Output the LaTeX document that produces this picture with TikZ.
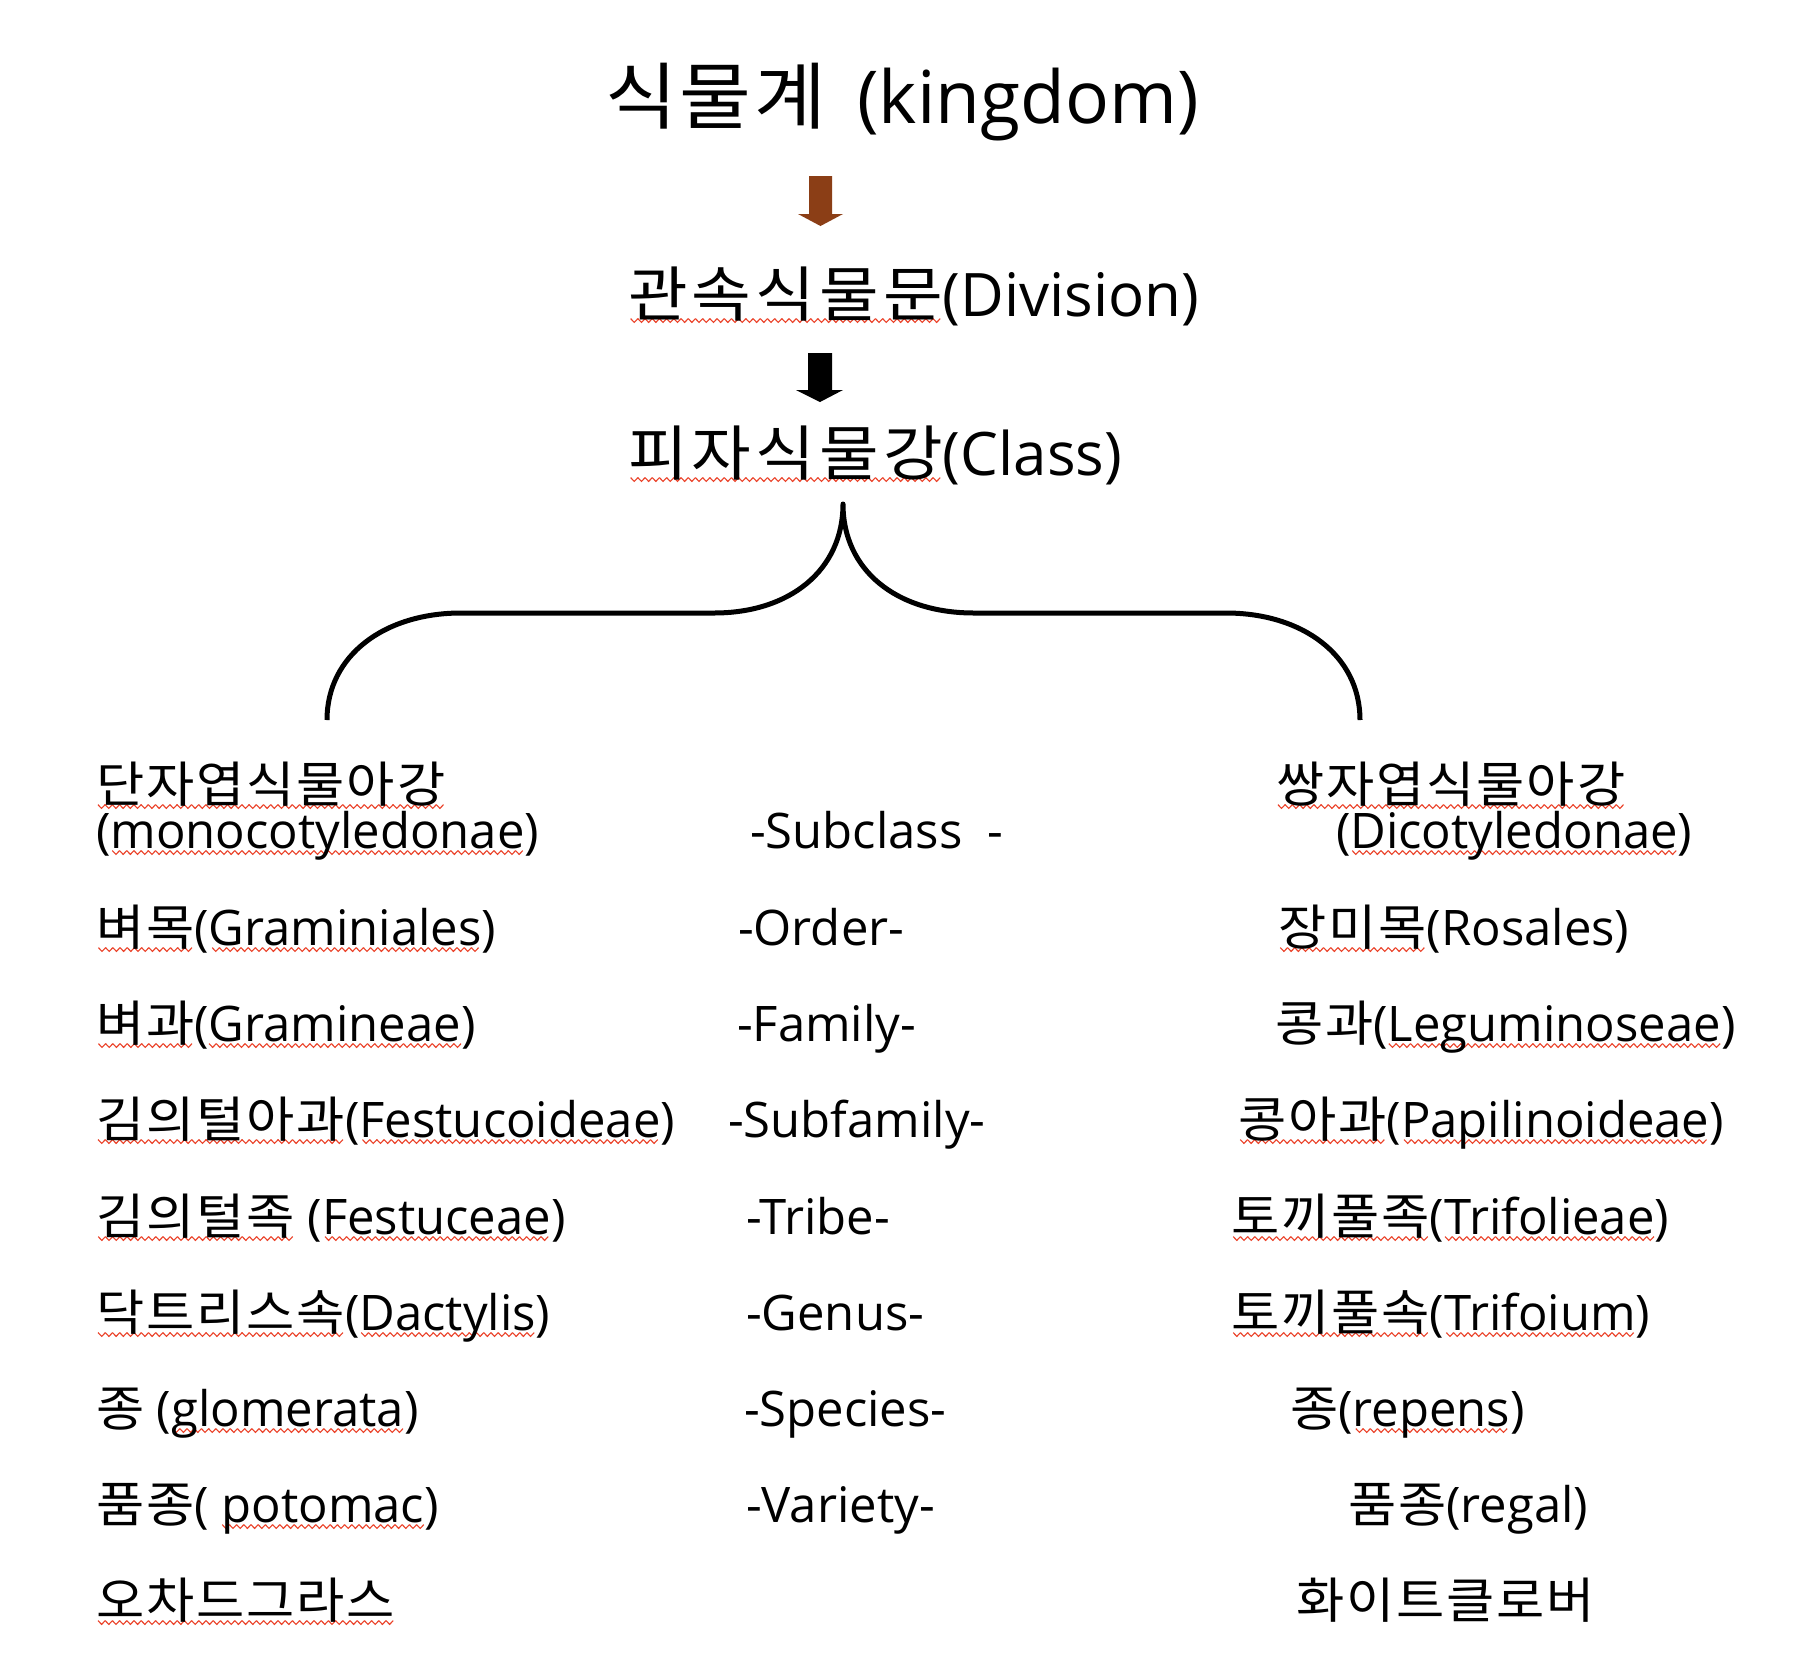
\documentclass[tikz,border=0pt]{standalone}
\usepackage{fontspec}
\setmainfont{Open Sans}
\newfontfamily\kr{Noto Sans CJK KR}[FakeStretch=1.07,LetterSpace=4]
\newfontfamily\krh{Noto Sans CJK KR}[FakeStretch=1.08,LetterSpace=7]
\usepackage{xcolor}
\definecolor{arrbrown}{RGB}{139,62,22}
\newsavebox\sqbox
% red spell-check style zigzag underline
\newcommand\squnit{\hbox to 3.6pt{\special{pdf:literal q 0.92 0.26 0.16 RG 0.55 w 0 0 m 1.8 -1.9 l 3.6 0 l S Q}\hfil}}
\newcommand\sq[1]{\sbox\sqbox{#1}\rlap{\raisebox{-1.3pt}{\hbox to\wd\sqbox{\cleaders\squnit\hfil}}}\usebox\sqbox}
\newcommand\K[1]{{\kr #1}}
\newcommand\KH[1]{{\krh #1}}
\tikzset{
  lbl/.style={inner sep=0pt, outer sep=0pt, anchor=base west, font=\fontsize{24.5}{29}\selectfont},
  hdr/.style={lbl, font=\fontsize{30}{36}\selectfont},
  ttl/.style={lbl, font=\fontsize{36.5}{44}\selectfont},
  brace/.style={line width=2.5pt, line join=round, line cap=butt},
}
\begin{document}
\begin{tikzpicture}[x=0.5pt,y=-0.5pt]
\fill[white] (0,0) rectangle (1806,1666);
\useasboundingbox (0,0) rectangle (1806,1666);

% headers
\node[ttl] (kingdom) at (605,123) {\K{식물계}\hspace{0.42em}(kingdom)};
\node[hdr] (division) at (628,316) {\sq{\KH{관속식물문}}(Division)};
\node[hdr] (class) at (628,475) {\sq{\KH{피자식물강}}(Class)};

% block arrows
\fill[arrbrown] (809,176) -- (832,176) -- (832,214) -- (843,214) -- (820.5,226) -- (798,214) -- (809,214) -- cycle;
\fill[black] (808,353) -- (832,353) -- (832,390) -- (843,390) -- (820,402) -- (796,390) -- (808,390) -- cycle;

% brace
\draw[brace] (327,720) .. controls (327,655) and (385,613) .. (461,613) -- (714,613)
  .. controls (790,613) and (843,570) .. (843,504)
  .. controls (843,570) and (896,613) .. (974,613) -- (1226,613)
  .. controls (1302,613) and (1360,655) .. (1360,720);

% left column
\node[lbl] (l0a) at (96,802) {\sq{\K{단자엽식물아강}}};
\node[lbl] (l0b) at (96,848) {(\sq{monocotyledonae})};
\node[lbl] (l1) at (96,945) {\sq{\K{벼목}}(\sq{Graminiales})};
\node[lbl] (l2) at (96,1041) {\sq{\K{벼과}}(\sq{Gramineae})};
\node[lbl] (l3) at (96,1137) {\sq{\K{김의털아과}}(\sq{Festucoideae})};
\node[lbl] (l4) at (96,1234) {\sq{\K{김의털족}} (\sq{Festuceae})};
\node[lbl] (l5) at (96,1330) {\sq{\K{닥트리스속}}(\sq{Dactylis})};
\node[lbl] (l6) at (96,1426) {\K{종} (\sq{glomerata})};
\node[lbl] (l7) at (96,1522) {\K{품종}( \sq{potomac})};
\node[lbl] (l8) at (96,1618) {\sq{\K{오차드그라스}}};

% middle column
\node[lbl] (m0) at (750,848) {-Subclass\ \ -};
\node[lbl] (m1) at (738,945) {-Order-};
\node[lbl] (m2) at (737,1041) {-Family-};
\node[lbl] (m3) at (728,1137) {-Subfamily-};
\node[lbl] (m4) at (746,1234) {-Tribe-};
\node[lbl] (m5) at (746,1330) {-Genus-};
\node[lbl] (m6) at (744,1426) {-Species-};
\node[lbl] (m7) at (746,1522) {-Variety-};

% right column
\node[lbl] (r0a) at (1276,802) {\sq{\K{쌍자엽식물아강}}};
\node[lbl] (r0b) at (1336,848) {(\sq{Dicotyledonae})};
\node[lbl] (r1) at (1278,945) {\sq{\K{장미목}}(Rosales)};
\node[lbl] (r2) at (1275,1041) {\K{콩과}(\sq{Leguminoseae})};
\node[lbl] (r3) at (1238,1137) {\sq{\K{콩아과}}(\sq{Papilinoideae})};
\node[lbl] (r4) at (1231,1234) {\sq{\K{토끼풀족}}(\sq{Trifolieae})};
\node[lbl] (r5) at (1231,1330) {\sq{\K{토끼풀속}}(\sq{Trifoium})};
\node[lbl] (r6) at (1290,1426) {\K{종}(\sq{repens})};
\node[lbl] (r7) at (1348,1522) {\K{품종}(regal)};
\node[lbl] (r8) at (1296,1618) {\K{화이트클로버}};
\end{tikzpicture}
\end{document}
